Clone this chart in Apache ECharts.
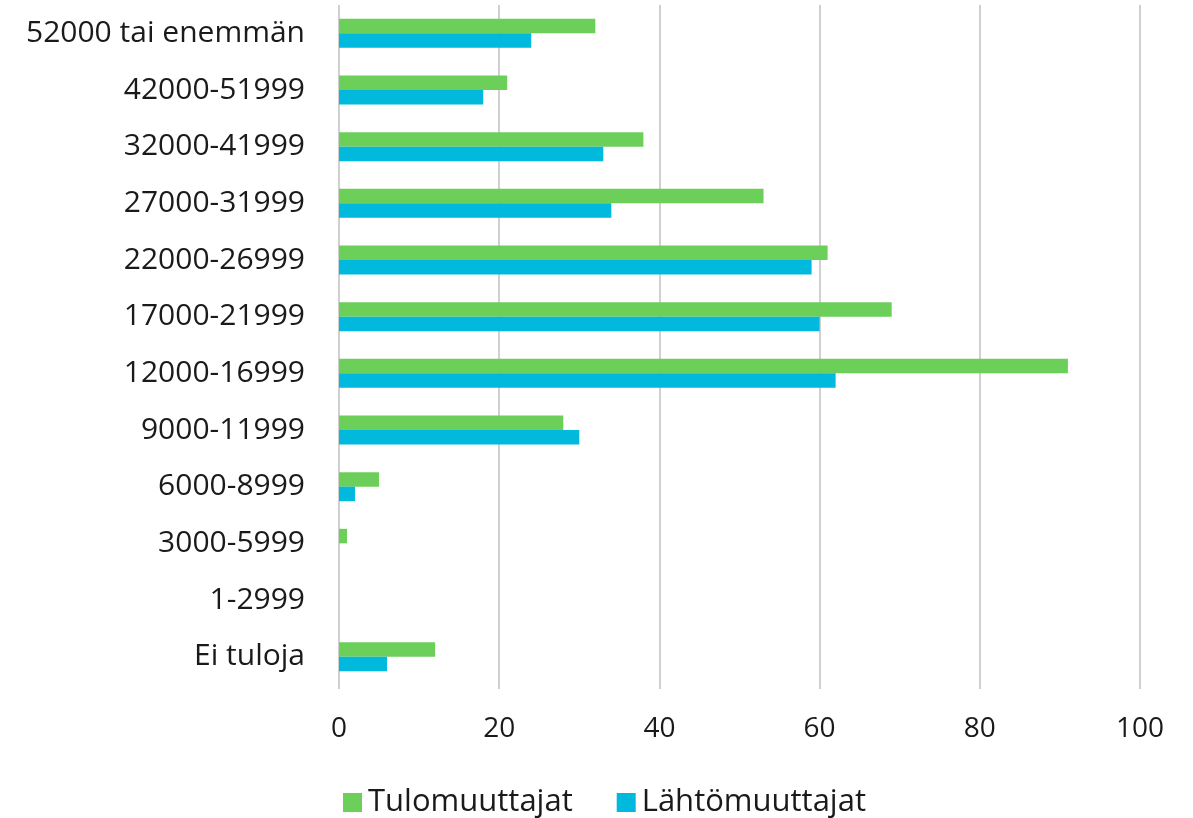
<!DOCTYPE html>
<html>
<head>
<meta charset="utf-8">
<script src="https://cdn.jsdelivr.net/npm/echarts@6/dist/echarts.min.js"></script>
<style>
  html, body { margin: 0; padding: 0; background: #fff; }
  #chart { width: 1193px; height: 818px; }
</style>
</head>
<body>
<div id="chart"></div>
<script>
// categories listed top to bottom as in the picture
var categories = ['52000 tai enemmän', '42000-51999', '32000-41999', '27000-31999',
  '22000-26999', '17000-21999', '12000-16999', '9000-11999', '6000-8999',
  '3000-5999', '1-2999', 'Ei tuloja'];
var tulomuuttajat = [32, 21, 38, 53, 61, 69, 91, 28, 5, 1, 0, 12];
var lahtomuuttajat = [24, 18, 33, 34, 59, 60, 62, 30, 2, 0, 0, 6];
var xTicks = [0, 20, 40, 60, 80, 100];

var font = '"Open Sans", "Noto Sans", sans-serif';
var chart = echarts.init(document.getElementById('chart'));

chart.setOption({
  animation: false,
  grid: { left: 339, right: 53, top: 5, height: 680 },
  legend: {
    data: ['Tulomuuttajat', 'Lähtömuuttajat'],
    left: 338, top: 782,
    itemWidth: 19, itemHeight: 19, itemGap: 44,
    icon: 'rect',
    textStyle: { fontFamily: font, fontSize: 31, color: '#1a1a1a', padding: [0, 0, 0, 1] }
  },
  xAxis: {
    type: 'value',
    min: xTicks[0], max: xTicks[xTicks.length - 1], interval: 20,
    axisLine: { show: false },
    axisTick: { show: true, length: 4, lineStyle: { color: '#d0d0d0', width: 2 } },
    splitLine: { show: true, lineStyle: { color: '#d0d0d0', width: 2 } },
    axisLabel: { fontFamily: font, fontSize: 28, color: '#1a1a1a', margin: 30 }
  },
  yAxis: {
    type: 'category',
    data: categories,
    inverse: true,
    axisLine: { show: false },
    axisTick: { show: false },
    axisLabel: { fontFamily: font, fontSize: 30, color: '#1a1a1a', margin: 34 }
  },
  series: [
    {
      name: 'Tulomuuttajat', type: 'bar', data: tulomuuttajat,
      barWidth: 14.5, barGap: '0%',
      itemStyle: { color: '#6bcf5a' }
    },
    {
      name: 'Lähtömuuttajat', type: 'bar', data: lahtomuuttajat,
      barWidth: 14.5, barGap: '0%',
      itemStyle: { color: '#00b9dc' }
    }
  ]
});
</script>
</body>
</html>
